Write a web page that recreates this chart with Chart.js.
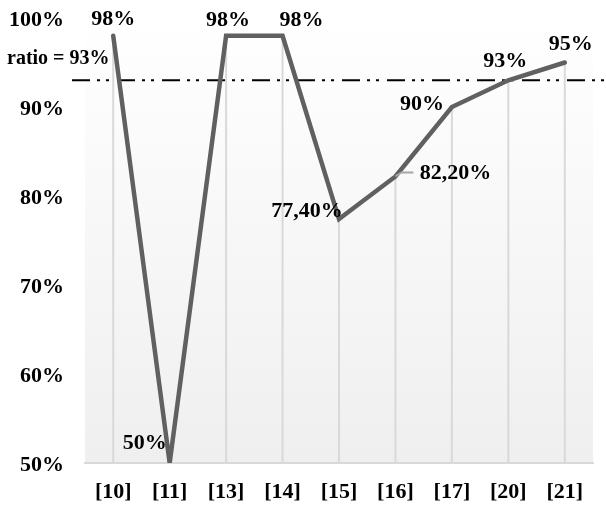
<!DOCTYPE html>
<html>
<head>
<meta charset="utf-8">
<script src="https://cdn.jsdelivr.net/npm/chart.js@4"></script>
<style>
html,body{margin:0;padding:0;background:#fff;}
#wrap{width:606px;height:507px;}
</style>
</head>
<body>
<div id="wrap"><canvas id="c" width="606" height="507"></canvas></div>
<script>
const categories = ['[10]','[11]','[13]','[14]','[15]','[16]','[17]','[20]','[21]'];
const values = [98, 50, 98, 98, 77.4, 82.2, 90, 93, 95];
const valueLabels = ['98%','50%','98%','98%','77,40%','82,20%','90%','93%','95%'];
const ratioValue = 93;
const ratioLabel = 'ratio = 93%';
const yTicks = [50, 60, 70, 80, 90, 100];

const FONT = "'Liberation Serif', 'Times New Roman', serif";

// label placement offsets (style only)
const labelOffsets = [[0,-16],[-25,-20],[2,-15],[19,-15],[-32,-8],[60,-3],[-30,-3],[-3,-19],[6,-18]];

const bgPlugin = {
  id: 'bg',
  beforeDraw(chart) {
    const {ctx, chartArea: a} = chart;
    const g = ctx.createLinearGradient(0, a.top, 0, a.bottom);
    g.addColorStop(0, '#ffffff');
    g.addColorStop(1, '#efefef');
    ctx.save();
    ctx.fillStyle = g;
    ctx.fillRect(a.left, a.top, a.right - a.left, a.bottom - a.top);
    ctx.restore();
  },
  beforeDatasetsDraw(chart) {
    const {ctx, chartArea: a} = chart;
    const meta = chart.getDatasetMeta(0);
    ctx.save();
    ctx.strokeStyle = '#d9d9d9';
    ctx.lineWidth = 2;
    meta.data.forEach(p => {
      ctx.beginPath();
      ctx.moveTo(p.x, p.y);
      ctx.lineTo(p.x, a.bottom);
      ctx.stroke();
    });
    // ratio line
    const y = chart.scales.y.getPixelForValue(ratioValue);
    ctx.strokeStyle = '#000';
    ctx.lineWidth = 2;
    ctx.setLineDash([18,7,3,6,3,8]);
    ctx.beginPath();
    ctx.moveTo(72, y);
    ctx.lineTo(chart.width, y);
    ctx.stroke();
    ctx.setLineDash([]);
    ctx.fillStyle = '#000';
    ctx.font = 'bold 20px ' + FONT;
    ctx.textAlign = 'left';
    ctx.textBaseline = 'middle';
    ctx.fillText(ratioLabel, 7, y - 21);
    ctx.restore();
  },
  afterDatasetsDraw(chart) {
    const {ctx} = chart;
    const meta = chart.getDatasetMeta(0);
    ctx.save();
    ctx.font = 'bold 22px ' + FONT;
    ctx.fillStyle = '#000';
    ctx.textAlign = 'center';
    ctx.textBaseline = 'middle';
    meta.data.forEach((p, i) => {
      const [dx, dy] = labelOffsets[i];
      if (i === 5) {
        ctx.strokeStyle = '#a6a6a6';
        ctx.lineWidth = 2;
        ctx.beginPath();
        ctx.moveTo(p.x, p.y);
        ctx.lineTo(p.x + 6, p.y - 4);
        ctx.lineTo(p.x + 18, p.y - 4);
        ctx.stroke();
      }
      ctx.fillText(valueLabels[i], p.x + dx, p.y + dy);
    });
    ctx.restore();
  }
};

new Chart(document.getElementById('c'), {
  type: 'line',
  data: {
    labels: categories,
    datasets: [{
      data: values,
      borderColor: '#606060',
      borderWidth: 4.5,
      pointRadius: 0,
      tension: 0,
      borderCapStyle: 'round',
      fill: false
    }]
  },
  options: {
    responsive: false,
    animation: false,
    plugins: { legend: { display: false }, tooltip: { enabled: false } },
    layout: { padding: { top: 18, right: 13, left: 0, bottom: 0 } },
    scales: {
      x: {
        type: 'category',
        offset: true,
        grid: { display: false, drawTicks: false },
        border: { display: true, color: '#d9d9d9', width: 2 },
        ticks: { color: '#000', font: { family: FONT, size: 22, weight: 'bold' }, padding: 16, maxRotation: 0 },
        afterFit(s) { s.height = 44; s.paddingLeft = 0; s.paddingRight = 0; }
      },
      y: {
        min: 50, max: 100,
        afterBuildTicks(s) { s.ticks = yTicks.map(v => ({ value: v })); },
        grid: { display: false, drawTicks: false },
        border: { display: false },
        ticks: { color: '#000', font: { family: FONT, size: 22, weight: 'bold' }, padding: 21, labelOffset: 2, callback: v => v + '%' },
        afterFit(s) { s.width = 85; s.paddingTop = 0; s.paddingBottom = 0; }
      }
    }
  },
  plugins: [bgPlugin]
});
</script>
</body>
</html>
